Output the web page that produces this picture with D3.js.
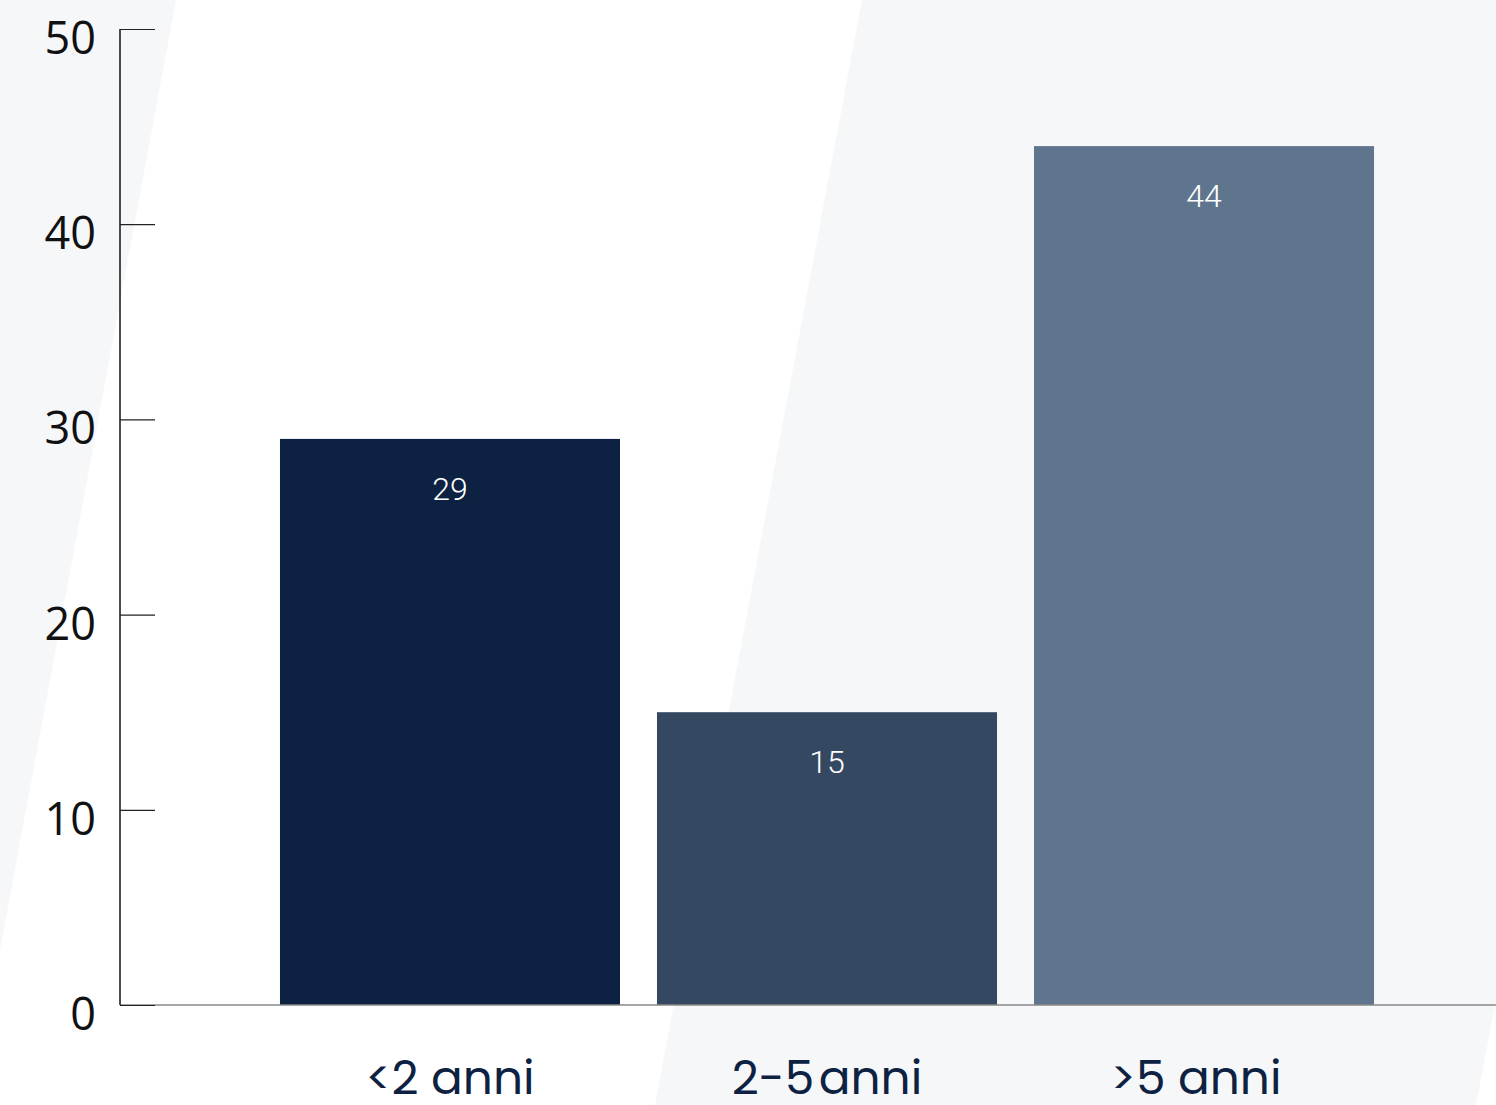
<!DOCTYPE html>
<html><head><meta charset="utf-8">
<script src="https://cdn.jsdelivr.net/npm/d3@7"></script>
<style>html,body{margin:0;padding:0;background:#fff;overflow:hidden}</style>
</head><body><svg id="c" width="1496" height="1105"></svg>
<script>
const categories = ["<2 anni", "2-5 anni", ">5 anni"];
const values = [29, 15, 44];
const barColors = ["#0d2142", "#344862", "#5f758d"];
const yTicks = [0, 10, 20, 30, 40, 50];

const W = 1496, H = 1105;
const svg = d3.select("#c");

// background decoration
svg.append("rect").attr("width", W).attr("height", H).attr("fill", "#ffffff");
svg.append("path").attr("d", "M0,0 L176,0 L0,950 Z").attr("fill", "#f6f7f9");
svg.append("path").attr("d", "M862,0 L1496,0 L1496,1000 L1476,1105 L655,1105 Z").attr("fill", "#f6f7f9");

const y = d3.scaleLinear().domain([0, 50]).range([1005, 29]);
const x = d3.scaleBand().domain(categories).range([261.5, 1392.5]).paddingInner(0.0981).paddingOuter(0.049);

// bars
svg.selectAll("rect.bar").data(values).join("rect").attr("class", "bar")
  .attr("x", (d, i) => x(categories[i]))
  .attr("width", x.bandwidth())
  .attr("y", d => y(d))
  .attr("height", d => y(0) - y(d))
  .attr("fill", (d, i) => barColors[i]);

// value labels
svg.selectAll("text.val").data(values).join("text").attr("class", "val")
  .attr("x", (d, i) => x(categories[i]) + x.bandwidth() / 2)
  .attr("y", d => y(d) + 61)
  .attr("text-anchor", "middle")
  .attr("font-family", "Roboto, 'Liberation Sans', sans-serif")
  .attr("font-weight", 300)
  .attr("font-size", 32)
  .attr("fill", "#ffffff")
  .text(d => d);

// x axis baseline
svg.append("line").attr("x1", 120).attr("x2", W).attr("y1", y(0)).attr("y2", y(0))
  .attr("stroke", "#888").attr("stroke-width", 1.5);

// y axis
const yAxis = d3.axisLeft(y).tickValues(yTicks).tickSize(-35).tickPadding(60).tickFormat(d3.format("d"));
const gy = svg.append("g").attr("transform", "translate(120,0)").call(yAxis);
gy.select(".domain").attr("stroke", "#111").attr("stroke-width", 1.5).attr("d", `M0,${y(50)}V${y(0)}`);
gy.selectAll(".tick line").attr("stroke", "#222").attr("stroke-width", 1.2);
gy.selectAll(".tick text")
  .attr("x", -24)
  .attr("dy", "0.72em")
  .attr("transform", "translate(0,-8)")
  .attr("font-family", "'Open Sans', 'Liberation Sans', sans-serif")
  .attr("font-size", 45)
  .attr("fill", "#111");

// x labels
svg.selectAll("text.cat").data(categories).join("text").attr("class", "cat")
  .attr("x", (d, i) => x(d) + x.bandwidth() / 2 + (i === 2 ? -8 : 0))
  .attr("y", 1094)
  .attr("text-anchor", "middle")
  .attr("font-family", "Poppins, Inter, 'Noto Sans', sans-serif")
  .attr("font-weight", 400)
  .attr("font-size", 47)
  .attr("word-spacing", (d, i) => i === 1 ? -8 : 0)
  .attr("fill", "#0d2142")
  .text(d => d);
</script></body></html>
